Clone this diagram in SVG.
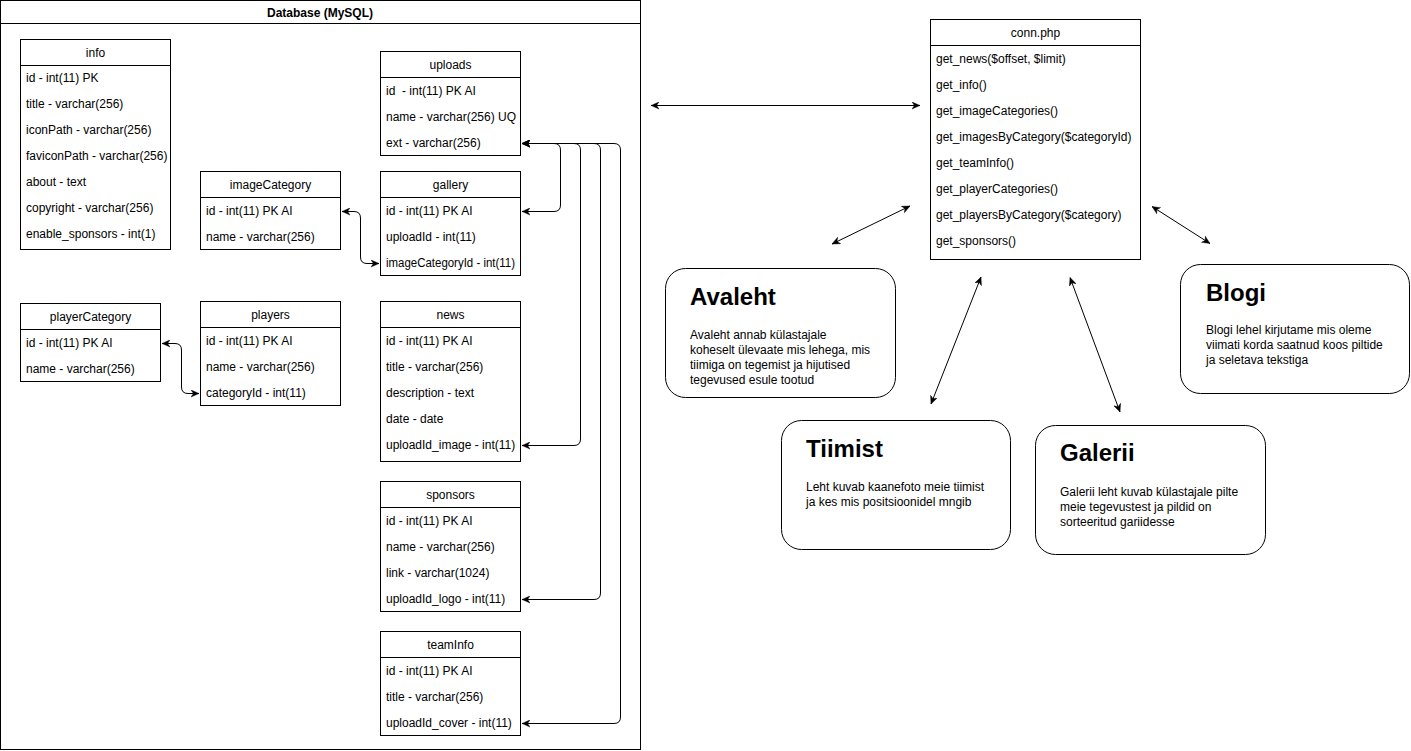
<svg xmlns="http://www.w3.org/2000/svg" width="1411" height="751" viewBox="0 0 1411 751">
  <style>
    text { font-family: "Liberation Sans", Arial, Helvetica, sans-serif; fill: #000; }
    .frame { fill: #fff; stroke: #000; stroke-width: 1; }
    .hdr { font-size: 12px; text-anchor: middle; }
    .row { font-size: 12px; }
    .dbtitle { font-size: 12px; font-weight: bold; text-anchor: middle; }
    .page { fill: #fff; stroke: #000; stroke-width: 1; }
    .ptitle { font-size: 24px; font-weight: bold; }
    .pbody { font-size: 12px; }
    .edge { fill: none; stroke: #000; stroke-width: 1; marker-start: url(#arr); marker-end: url(#arr); }
  </style>
  <defs>
    <marker id="arr" viewBox="0 0 10 10" refX="10" refY="5" markerWidth="8" markerHeight="8" markerUnits="userSpaceOnUse" orient="auto-start-reverse">
      <path d="M0,0.5 L10,5 L0,9.5 L3,5 z" fill="#000" stroke="#000" stroke-width="0.5"/>
    </marker>
  </defs>

  <rect width="1411" height="751" fill="#fff"/>

  <!-- Database container -->
  <g id="database">
    <rect class="frame" x="0.5" y="0.5" width="640" height="749"/>
    <line x1="0.5" y1="23.5" x2="640.5" y2="23.5" stroke="#000"/>
    <text class="dbtitle" x="320" y="17">Database (MySQL)</text>
  </g>

  <g id="info">
    <rect class="frame" x="20.5" y="39.5" width="150" height="210"/>
    <line x1="20.5" y1="65.5" x2="170.5" y2="65.5" stroke="#000"/>
    <text class="hdr" x="95.5" y="57">info</text>
    <text class="row" x="26" y="82">id - int(11) PK</text>
    <text class="row" x="26" y="108">title - varchar(256)</text>
    <text class="row" x="26" y="134">iconPath - varchar(256)</text>
    <text class="row" x="26" y="160">faviconPath - varchar(256)</text>
    <text class="row" x="26" y="186">about - text</text>
    <text class="row" x="26" y="212">copyright - varchar(256)</text>
    <text class="row" x="26" y="238">enable_sponsors - int(1)</text>
  </g>

  <g id="imageCategory">
    <rect class="frame" x="200.5" y="171.5" width="140" height="78"/>
    <line x1="200.5" y1="197.5" x2="340.5" y2="197.5" stroke="#000"/>
    <text class="hdr" x="270.5" y="189">imageCategory</text>
    <text class="row" x="206" y="215">id - int(11) PK AI</text>
    <text class="row" x="206" y="241">name - varchar(256)</text>
  </g>

  <g id="playerCategory">
    <rect class="frame" x="20.5" y="303.5" width="140" height="78"/>
    <line x1="20.5" y1="329.5" x2="160.5" y2="329.5" stroke="#000"/>
    <text class="hdr" x="90.5" y="321">playerCategory</text>
    <text class="row" x="26" y="347">id - int(11) PK AI</text>
    <text class="row" x="26" y="373">name - varchar(256)</text>
  </g>

  <g id="players">
    <rect class="frame" x="200.5" y="301.5" width="140" height="104"/>
    <line x1="200.5" y1="327.5" x2="340.5" y2="327.5" stroke="#000"/>
    <text class="hdr" x="270.5" y="319">players</text>
    <text class="row" x="206" y="345">id - int(11) PK AI</text>
    <text class="row" x="206" y="371">name - varchar(256)</text>
    <text class="row" x="206" y="397">categoryId - int(11)</text>
  </g>

  <g id="uploads">
    <rect class="frame" x="380.5" y="51.5" width="140" height="104"/>
    <line x1="380.5" y1="77.5" x2="520.5" y2="77.5" stroke="#000"/>
    <text class="hdr" x="450.5" y="69">uploads</text>
    <text class="row" x="386" y="95" xml:space="preserve">id  - int(11) PK AI</text>
    <text class="row" x="386" y="121">name - varchar(256) UQ</text>
    <text class="row" x="386" y="147">ext - varchar(256)</text>
  </g>

  <g id="gallery">
    <rect class="frame" x="380.5" y="171.5" width="140" height="104"/>
    <line x1="380.5" y1="197.5" x2="520.5" y2="197.5" stroke="#000"/>
    <text class="hdr" x="450.5" y="189">gallery</text>
    <text class="row" x="386" y="215">id - int(11) PK AI</text>
    <text class="row" x="386" y="241">uploadId - int(11)</text>
    <text class="row" x="386" y="267" textLength="129" lengthAdjust="spacingAndGlyphs">imageCategoryId - int(11)</text>
  </g>

  <g id="news">
    <rect class="frame" x="380.5" y="301.5" width="140" height="160"/>
    <line x1="380.5" y1="327.5" x2="520.5" y2="327.5" stroke="#000"/>
    <text class="hdr" x="450.5" y="319">news</text>
    <text class="row" x="386" y="345">id - int(11) PK AI</text>
    <text class="row" x="386" y="371">title - varchar(256)</text>
    <text class="row" x="386" y="397">description - text</text>
    <text class="row" x="386" y="423">date - date</text>
    <text class="row" x="386" y="449">uploadId_image - int(11)</text>
  </g>

  <g id="sponsors">
    <rect class="frame" x="380.5" y="481.5" width="140" height="130"/>
    <line x1="380.5" y1="507.5" x2="520.5" y2="507.5" stroke="#000"/>
    <text class="hdr" x="450.5" y="499">sponsors</text>
    <text class="row" x="386" y="525">id - int(11) PK AI</text>
    <text class="row" x="386" y="551">name - varchar(256)</text>
    <text class="row" x="386" y="577">link - varchar(1024)</text>
    <text class="row" x="386" y="603">uploadId_logo - int(11)</text>
  </g>

  <g id="teamInfo">
    <rect class="frame" x="380.5" y="631.5" width="140" height="104"/>
    <line x1="380.5" y1="657.5" x2="520.5" y2="657.5" stroke="#000"/>
    <text class="hdr" x="450.5" y="649">teamInfo</text>
    <text class="row" x="386" y="675">id - int(11) PK AI</text>
    <text class="row" x="386" y="701">title - varchar(256)</text>
    <text class="row" x="386" y="727">uploadId_cover - int(11)</text>
  </g>

  <g id="conn-php">
    <rect class="frame" x="930.5" y="19.5" width="210" height="240"/>
    <line x1="930.5" y1="45.5" x2="1140.5" y2="45.5" stroke="#000"/>
    <text class="hdr" x="1035.5" y="37">conn.php</text>
    <text class="row" x="936" y="63">get_news($offset, $limit)</text>
    <text class="row" x="936" y="89">get_info()</text>
    <text class="row" x="936" y="115">get_imageCategories()</text>
    <text class="row" x="936" y="141">get_imagesByCategory($categoryId)</text>
    <text class="row" x="936" y="167">get_teamInfo()</text>
    <text class="row" x="936" y="193">get_playerCategories()</text>
    <text class="row" x="936" y="219">get_playersByCategory($category)</text>
    <text class="row" x="936" y="245">get_sponsors()</text>
  </g>

  <!-- Page descriptions -->
  <g id="avaleht">
    <rect class="page" x="665.5" y="268.5" width="230" height="129" rx="20" ry="20"/>
    <text class="ptitle" x="690" y="305">Avaleht</text>
    <text class="pbody" x="690" y="339">Avaleht annab külastajale</text>
    <text class="pbody" x="690" y="354">koheselt ülevaate mis lehega, mis</text>
    <text class="pbody" x="690" y="369">tiimiga on tegemist ja hijutised</text>
    <text class="pbody" x="690" y="384">tegevused esule tootud</text>
  </g>

  <g id="blogi">
    <rect class="page" x="1180.5" y="264.5" width="229" height="129" rx="20" ry="20"/>
    <text class="ptitle" x="1206" y="301">Blogi</text>
    <text class="pbody" x="1206" y="334">Blogi lehel kirjutame mis oleme</text>
    <text class="pbody" x="1206" y="349">viimati korda saatnud koos piltide</text>
    <text class="pbody" x="1206" y="364">ja seletava tekstiga</text>
  </g>

  <g id="tiimist">
    <rect class="page" x="781.5" y="420.5" width="229" height="129" rx="20" ry="20"/>
    <text class="ptitle" x="806" y="457">Tiimist</text>
    <text class="pbody" x="806" y="491">Leht kuvab kaanefoto meie tiimist</text>
    <text class="pbody" x="806" y="506">ja kes mis positsioonidel mngib</text>
  </g>

  <g id="galerii">
    <rect class="page" x="1035.5" y="425.5" width="230" height="129" rx="20" ry="20"/>
    <text class="ptitle" x="1060" y="461">Galerii</text>
    <text class="pbody" x="1060" y="496">Galerii leht kuvab külastajale pilte</text>
    <text class="pbody" x="1060" y="511">meie tegevustest ja pildid on</text>
    <text class="pbody" x="1060" y="526">sorteeritud gariidesse</text>
  </g>

  <!-- Connectors -->
  <g id="connectors">
    <!-- foreign keys to uploads.id -->
    <path class="edge" d="M522,143.5 H554 Q560.5,143.5 560.5,150 V205 Q560.5,211.5 554,211.5 H522"/>
    <path class="edge" d="M522,143.5 H574 Q580.5,143.5 580.5,150 V439 Q580.5,445.5 574,445.5 H522"/>
    <path class="edge" d="M522,143.5 H594 Q600.5,143.5 600.5,150 V593 Q600.5,599.5 594,599.5 H522"/>
    <path class="edge" d="M522,143.5 H614 Q620.5,143.5 620.5,150 V717 Q620.5,723.5 614,723.5 H522"/>
    <!-- imageCategory to gallery -->
    <path class="edge" d="M342,211.5 H354 Q360.5,211.5 360.5,218 V257 Q360.5,263.5 367,263.5 H379"/>
    <!-- playerCategory to players -->
    <path class="edge" d="M162,343.5 H175 Q181.5,343.5 181.5,350 V387 Q181.5,393.5 188,393.5 H199"/>
    <!-- database to conn.php -->
    <path class="edge" d="M651,105.5 H920"/>
    <!-- conn.php to pages -->
    <path class="edge" d="M910,206 L832,244"/>
    <path class="edge" d="M1152,206.5 L1210,243.5"/>
    <path class="edge" d="M981,277 L931,404"/>
    <path class="edge" d="M1070,277.5 L1120,412"/>
  </g>
</svg>
